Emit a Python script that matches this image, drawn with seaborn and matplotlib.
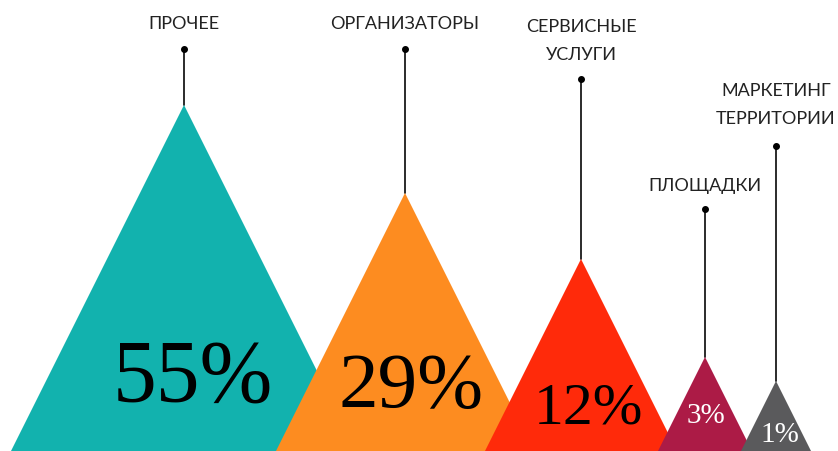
import matplotlib.pyplot as plt
import seaborn as sns

# data
categories = ["ПРОЧЕЕ", "ОРГАНИЗАТОРЫ", "СЕРВИСНЫЕ\nУСЛУГИ", "ПЛОЩАДКИ", "МАРКЕТИНГ\nТЕРРИТОРИИ"]
shares = [55, 29, 12, 3, 1]
peak_heights = [346, 258, 192, 94, 70]

# layout (pixel-like units, baseline at 0)
centers = [184, 405, 581, 705, 776]
dot_heights = [402, 402, 372, 242, 305]
label_y = [427, 427, 410, 265, 346]
pct_x = [193, 411, 588, 706, 780]
pct_y = [50, 44, 27, 28, 9]
pct_size = [63, 57, 43, 21, 21]
pct_color = ["black", "black", "black", "white", "white"]
colors = ["#12b2ae", "#fd8c20", "#ff2a0a", "#ac1b46", "#5a5a5c"]

if __name__ == "__main__":
    sns.set_style("white")
    plt.rcParams["font.family"] = ["Lato", "DejaVu Sans"]

    fig = plt.figure(figsize=(8.38, 4.51), dpi=100)
    ax = fig.add_axes([0, 0, 1, 1])
    palette = sns.color_palette(colors)

    for i, (cat, share, h) in enumerate(zip(categories, shares, peak_heights)):
        cx = centers[i]
        # peak: base width equals height
        ax.fill([cx - h / 2, cx, cx + h / 2], [0, h, 0], color=palette[i], lw=0, zorder=2 + i)
        ax.plot([cx, cx], [h, dot_heights[i]], color="#2b2b2b", lw=1.4, zorder=1)
        ax.plot(cx, dot_heights[i], "o", color="black", ms=4, zorder=1)
        ax.text(cx, label_y[i], cat, ha="center", va="center", fontsize=13,
                color="#222222", linespacing=2.0)
        ax.text(pct_x[i], pct_y[i], f"{share}%", ha="center", va="baseline",
                fontsize=pct_size[i], color=pct_color[i],
                family="Liberation Serif", zorder=10)

    ax.set_xlim(0, 838)
    ax.set_ylim(0, 451)
    ax.axis("off")
    fig.savefig("out.png", dpi=100)
